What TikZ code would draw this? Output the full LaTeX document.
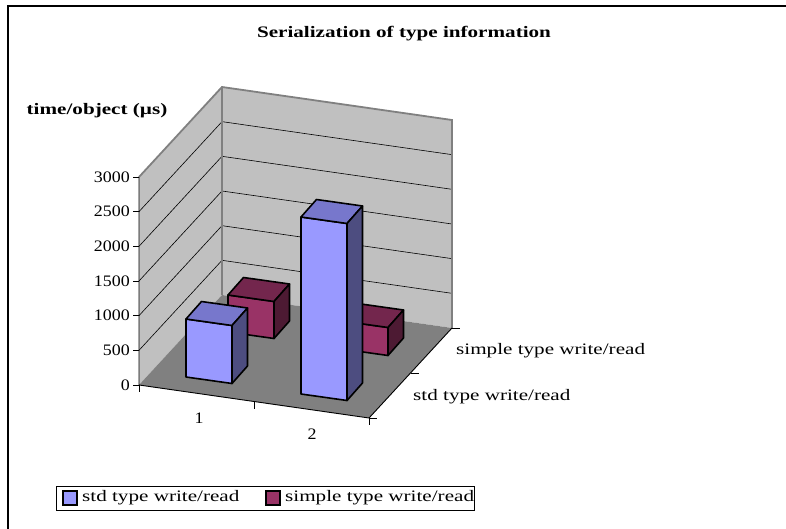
\documentclass[tikz,border=0pt]{standalone}
\usepackage{fontspec}
\setmainfont{Liberation Serif}
\usetikzlibrary{calc}

\definecolor{stdfront}{RGB}{153,153,255}
\definecolor{stdtop}{RGB}{119,119,204}
\definecolor{stdside}{RGB}{77,77,128}
\definecolor{simfront}{RGB}{153,51,102}
\definecolor{simtop}{RGB}{115,38,77}
\definecolor{simside}{RGB}{77,26,51}
\definecolor{wallgray}{RGB}{192,192,192}
\definecolor{floorgray}{RGB}{128,128,128}

\newcommand{\wide}[2][1.32]{\scalebox{#1}[1]{#2}}
% one 3d column: x, y of front bottom left, height, colour set
\newcommand{\barcol}[4]{%
  \draw[barline,fill=#4front] (#1,#2) -- ++(46,6.5) -- ++(0,-#3) -- ++(-46,-6.5) -- cycle;
  \draw[barline,fill=#4top] ({#1},{#2-#3}) -- ++(46,6.5) -- ++(15.5,-17.5) -- ++(-46,-6.5) -- cycle;
  \draw[barline,fill=#4side] ({#1+46},{#2+6.5}) -- ++(15.5,-17.5) -- ++(0,-#3) -- ++(-15.5,17.5) -- cycle;
}

\tikzset{
  barline/.style={draw=black,line width=1.6pt,line join=round},
  wallfill/.style={fill=wallgray},
  walledge/.style={draw=floorgray,line width=1.8pt},
  gridline/.style={black,line width=0.6pt},
  axisline/.style={black,line width=0.9pt},
  txt/.style={inner sep=0pt,font=\fontsize{16}{19}\selectfont},
  boldtxt/.style={txt,font=\fontsize{16}{19}\selectfont\bfseries},
  swatch/.style={draw=black,line width=1.6pt}
}

\begin{document}
\begin{tikzpicture}[x=1pt,y=-1pt]
\useasboundingbox (0,0) rectangle (786,529);
\draw[line width=1.4pt] (8,529) -- (8,6) -- (786,6);

\node[boldtxt] (title) at (404,34) {\wide{Serialization of type information}};
\node[boldtxt] (yname) at (97,111) {\wide{time/object (µs)}};

% walls and floor
\fill[wallfill] (139,385) -- (139,177) -- (222,87) -- (222,295) -- cycle;
\fill[wallfill] (222,295) -- (222,87) -- (452,120) -- (452,328) -- cycle;
\foreach \k in {1,...,5}{
  \pgfmathsetmacro\yy{385-34.67*\k}
  \draw[gridline] (139,\yy) -- ({222},{\yy-90}) -- ({452},{\yy-57});
}
\draw[walledge] (139,177) -- (222,87) -- (452,120) -- (452,328);
\draw[walledge] (222,87) -- (222,295);
\fill[floorgray] (139,385) -- (222,295) -- (452,328) -- (369,418) -- cycle;

% columns, back row first
\barcol{228}{332}{37}{sim}
\barcol{342}{349}{28}{sim}
\barcol{186}{377}{58}{std}
\barcol{301}{394}{177}{std}

% axes
\draw[axisline] (139,177) -- (139,385) -- (369,418) -- (452,328);
\foreach \k in {0,...,6}{
  \pgfmathsetmacro\yy{385-34.67*\k}
  \pgfmathtruncatemacro\val{500*\k}
  \draw[axisline] (133,\yy) -- (139,\yy);
  \node[txt,anchor=east] (tick\k) at (130,\yy) {\wide[1.12]{\val}};
}
\draw[axisline] (139,385) -- ++(0,7);
\draw[axisline] (254,401.5) -- ++(0,7);
\draw[axisline] (369,418) -- ++(0,7);
\draw[axisline] (369,418) -- ++(8,0);
\draw[axisline] (410.5,373) -- ++(8,0);
\draw[axisline] (452,328) -- ++(8,0);

\node[txt] (cat1) at (199,418) {\wide[1.12]{1}};
\node[txt] (cat2) at (312,434) {\wide[1.12]{2}};
\node[txt,anchor=west] (row2) at (456,351) {\wide{simple type write/read}};
\node[txt,anchor=west] (row1) at (413,397) {\wide{std type write/read}};

% legend
\draw[line width=0.6pt] (56,486) rectangle (474,510);
\draw[swatch,fill=stdfront] (63,491) rectangle (77,505);
\node[txt,anchor=west] (leg1) at (82,498) {\wide{std type write/read}};
\draw[swatch,fill=simfront] (266,491) rectangle (280,505);
\node[txt,anchor=west] (leg2) at (285,498) {\wide{simple type write/read}};
\end{tikzpicture}
\end{document}
